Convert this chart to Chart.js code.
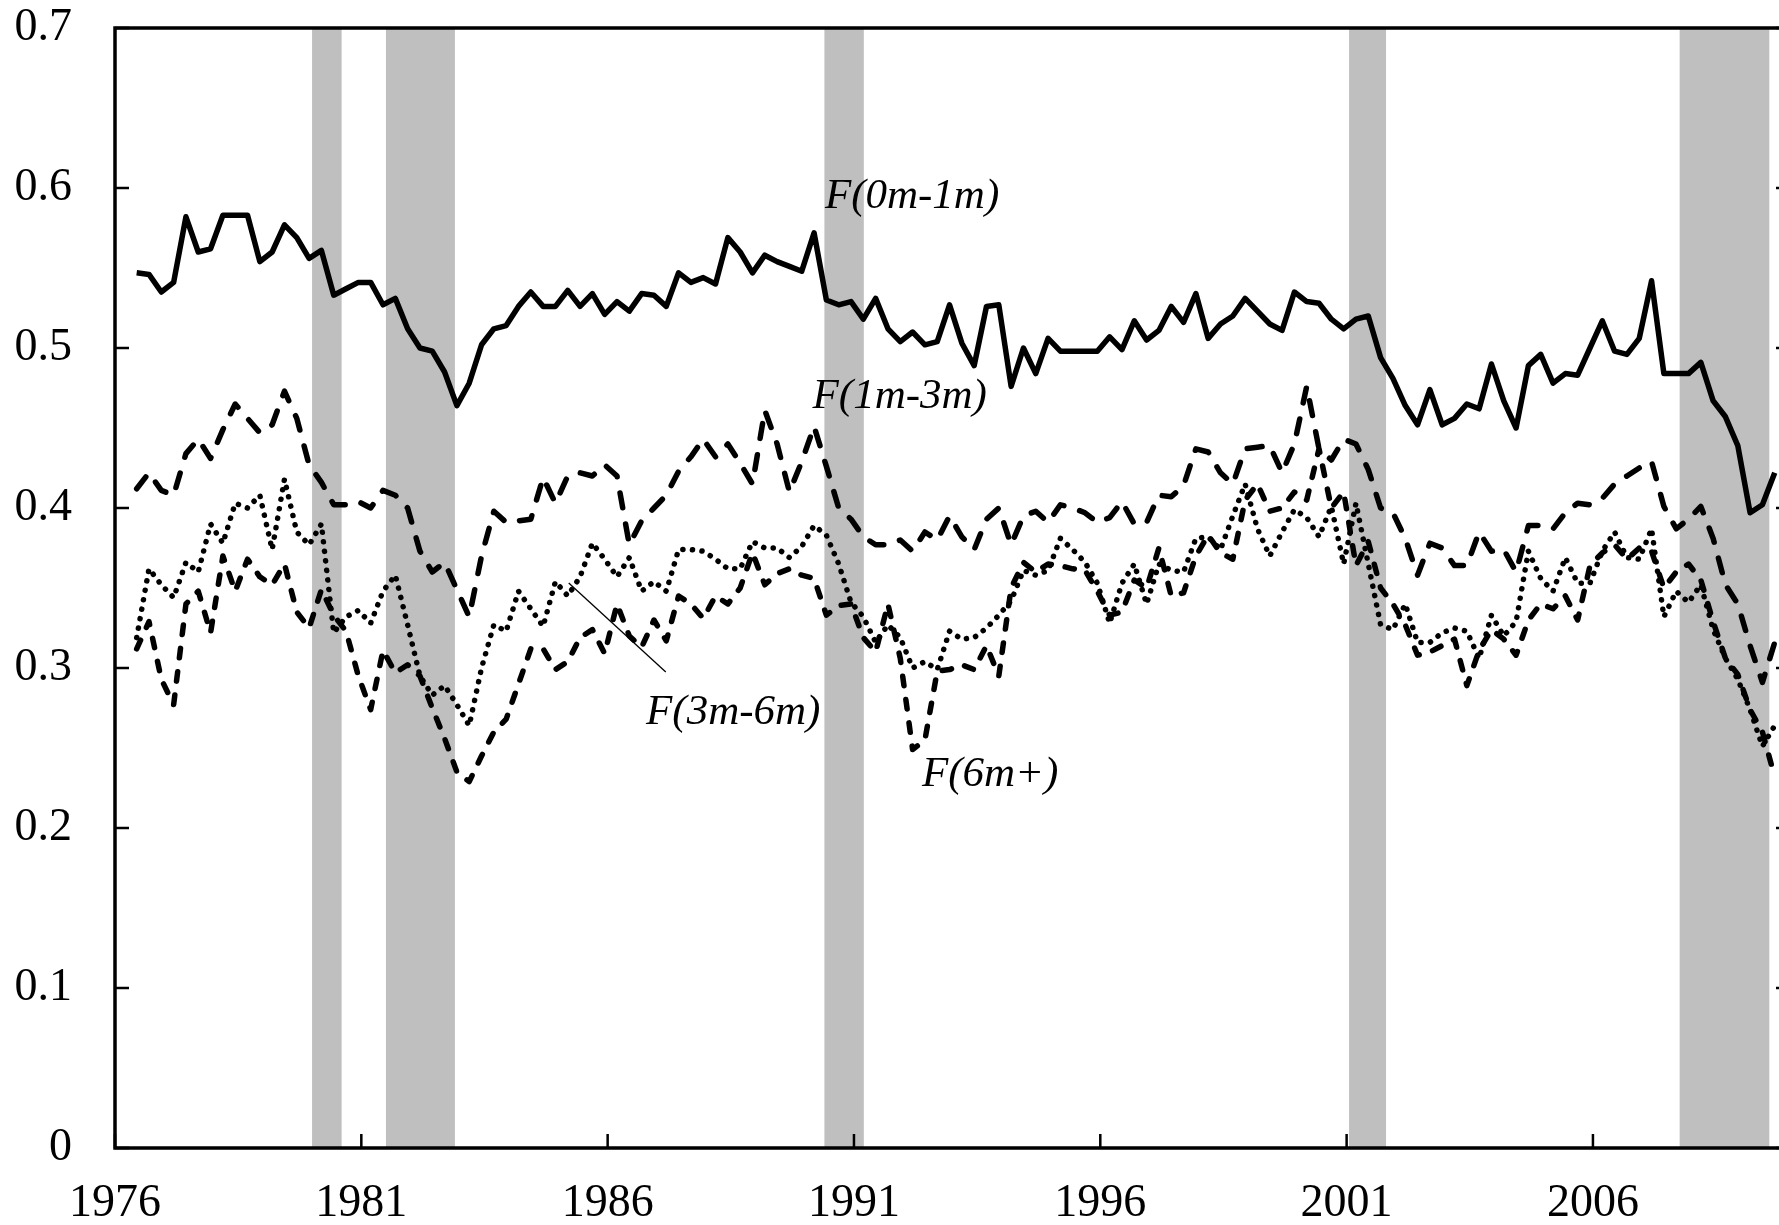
<!DOCTYPE html>
<html>
<head>
<meta charset="utf-8">
<title>Flow shares by duration</title>
<script src="https://cdn.jsdelivr.net/npm/chart.js@4.4.1/dist/chart.umd.min.js"></script>
<style>
    html, body { margin: 0; padding: 0; background: #fff; overflow: hidden; }
    #wrap { width: 1779px; height: 1225px; overflow: hidden; position: relative; }
    #chart { position: absolute; left: 0; top: 0; }
</style>
</head>
<body>
<div id="wrap"><canvas id="chart" width="1810" height="1225"></canvas></div>
<script>
// quarterly observations, 1976Q2 - 2009Q3
const firstQuarter = 1976.44;
const quarterStep = 0.25;

const f0m1m = [
    .547, .546, .535, .541, .582, .560, .562, .583, .583, .583,
    .554, .560, .577, .569, .556, .561, .533, .537, .541, .541,
    .527, .531, .512, .500, .498, .485, .464, .478, .502, .512,
    .514, .526, .535, .526, .526, .536, .526, .534, .521, .529,
    .523, .534, .533, .526, .547, .541, .544, .540, .569, .560,
    .547, .558, .554, .551, .548, .572, .530, .527, .529, .518,
    .531, .512, .504, .510, .502, .504, .527, .503, .489, .526,
    .527, .476, .500, .484, .506, .498, .498, .498, .498, .507,
    .499, .517, .505, .511, .526, .516, .534, .506, .515, .520,
    .531, .523, .515, .511, .535, .529, .528, .518, .512, .518,
    .520, .494, .481, .464, .452, .474, .452, .456, .465, .462,
    .490, .467, .450, .489, .496, .478, .484, .483, .500, .517,
    .498, .496, .506, .542, .484, .484, .484, .491, .467, .457,
    .439, .397, .402, .422
];

const f1m3m = [
    .412, .422, .411, .408, .434, .443, .431, .449, .465, .456,
    .447, .452, .473, .456, .427, .416, .402, .402, .404, .400,
    .411, .408, .400, .373, .360, .366, .349, .332, .370, .398,
    .391, .392, .393, .419, .403, .420, .422, .420, .427, .420,
    .377, .392, .400, .408, .423, .432, .443, .432, .440, .428,
    .415, .461, .440, .410, .429, .451, .426, .400, .393, .382,
    .377, .377, .380, .373, .385, .380, .395, .382, .374, .393,
    .400, .377, .395, .398, .391, .402, .400, .397, .391, .394,
    .404, .390, .391, .408, .407, .414, .437, .435, .422, .415,
    .437, .438, .439, .422, .440, .476, .437, .430, .443, .440,
    .424, .400, .397, .381, .358, .378, .375, .364, .364, .385,
    .373, .374, .360, .389, .389, .387, .397, .403, .402, .406,
    .415, .420, .425, .429, .401, .387, .393, .401, .381, .352,
    .340, .314, .291, .316
];

const f3m6m = [
    .319, .362, .352, .344, .366, .360, .390, .378, .403, .400,
    .408, .374, .418, .385, .377, .390, .322, .332, .336, .328,
    .348, .358, .327, .295, .283, .289, .277, .264, .300, .327,
    .323, .348, .337, .326, .354, .345, .357, .378, .368, .357,
    .369, .348, .354, .348, .374, .374, .373, .368, .362, .362,
    .379, .375, .375, .369, .376, .389, .383, .365, .341, .332,
    .316, .327, .319, .300, .304, .299, .323, .318, .319, .325,
    .333, .342, .361, .358, .361, .381, .374, .366, .353, .328,
    .353, .365, .340, .365, .361, .360, .381, .382, .374, .395,
    .415, .387, .370, .385, .399, .394, .382, .401, .365, .403,
    .365, .327, .324, .340, .316, .316, .322, .325, .323, .306,
    .333, .320, .329, .373, .356, .348, .369, .353, .353, .373,
    .385, .369, .368, .387, .332, .348, .341, .352, .324, .306,
    .293, .274, .251, .264
];

const f6mPlus = [
    .312, .329, .293, .277, .340, .348, .322, .370, .348, .368,
    .357, .352, .365, .335, .325, .349, .333, .323, .295, .274,
    .311, .297, .302, .295, .275, .256, .235, .229, .245, .260,
    .268, .290, .312, .312, .299, .304, .319, .324, .309, .340,
    .320, .313, .330, .317, .345, .340, .331, .345, .340, .350,
    .372, .352, .359, .362, .358, .356, .333, .339, .340, .319,
    .310, .340, .306, .249, .255, .298, .299, .302, .299, .314,
    .295, .350, .366, .360, .365, .364, .362, .361, .348, .333,
    .335, .355, .350, .375, .345, .347, .370, .383, .372, .368,
    .405, .415, .398, .400, .410, .405, .437, .400, .410, .364,
    .379, .350, .340, .327, .308, .310, .314, .318, .289, .311,
    .324, .318, .308, .330, .340, .337, .345, .330, .364, .372,
    .377, .368, .375, .373, .350, .360, .365, .355, .329, .306,
    .296, .274, .260, .232
];

// NBER recessions (start, end) in years
const recessions = [
    [1980.0, 1980.6],
    [1981.5, 1982.9],
    [1990.4, 1991.2],
    [2001.05, 2001.8],
    [2007.76, 2009.58],
];

const yearTicks = [1976, 1981, 1986, 1991, 1996, 2001, 2006];
const valueTicks = [0, 0.1, 0.2, 0.3, 0.4, 0.5, 0.6, 0.7];

// series labels, anchored in data units (year, value at text baseline)
const seriesLabels = [
    { text: 'F(0m-1m)', x: 1990.41, y: 0.5875 },
    { text: 'F(1m-3m)', x: 1990.16, y: 0.4625 },
    { text: 'F(3m-6m)', x: 1986.78, y: 0.265 },
    { text: 'F(6m+)', x: 1992.38, y: 0.226 },
];
const pointer = { from: [1985.21, 0.3531], to: [1987.18, 0.2975] };

const SERIF = "'Liberation Serif', 'Times New Roman', serif";

function toPoints(values) {
    return values.map((v, i) => ({ x: firstQuarter + i * quarterStep, y: v }));
}

const decorPlugin = {
    id: 'decor',
    beforeDatasetsDraw(chart) {
        const { ctx, chartArea: a, scales: { x } } = chart;
        ctx.save();
        ctx.fillStyle = '#bfbfbf';
        recessions.forEach(([s, e]) => {
            const x0 = x.getPixelForValue(s);
            const x1 = x.getPixelForValue(e);
            ctx.fillRect(x0, a.top, x1 - x0, a.bottom - a.top);
        });
        ctx.restore();
    },
    afterDraw(chart) {
        const { ctx, chartArea: a, scales: { x, y } } = chart;
        const tick = 14;
        ctx.save();
        ctx.strokeStyle = '#000';
        ctx.lineCap = 'butt';

        // frame
        ctx.lineWidth = 3.5;
        ctx.beginPath();
        ctx.moveTo(a.left, a.top);
        ctx.lineTo(a.right, a.top);
        ctx.lineTo(a.right, a.bottom);
        ctx.lineTo(a.left, a.bottom);
        ctx.closePath();
        ctx.stroke();

        // inward tick marks
        ctx.lineWidth = 2.5;
        ctx.beginPath();
        valueTicks.forEach((v) => {
            const py = y.getPixelForValue(v);
            ctx.moveTo(a.left, py);
            ctx.lineTo(a.left + tick, py);
            ctx.moveTo(a.right, py);
            ctx.lineTo(a.right - tick, py);
        });
        yearTicks.forEach((yr) => {
            const px = x.getPixelForValue(yr);
            ctx.moveTo(px, a.bottom);
            ctx.lineTo(px, a.bottom - tick);
        });
        ctx.stroke();

        // pointer line to the dotted series
        ctx.lineWidth = 1.3;
        ctx.beginPath();
        ctx.moveTo(x.getPixelForValue(pointer.from[0]), y.getPixelForValue(pointer.from[1]));
        ctx.lineTo(x.getPixelForValue(pointer.to[0]), y.getPixelForValue(pointer.to[1]));
        ctx.stroke();

        // series labels
        ctx.fillStyle = '#000';
        ctx.font = 'italic 43px ' + SERIF;
        ctx.textAlign = 'left';
        ctx.textBaseline = 'alphabetic';
        seriesLabels.forEach((lab) => {
            ctx.fillText(lab.text, x.getPixelForValue(lab.x), y.getPixelForValue(lab.y));
        });
        ctx.restore();
    },
};

const lineBase = {
    borderColor: '#000',
    borderWidth: 5.5,
    pointRadius: 0,
    tension: 0,
    fill: false,
    borderJoinStyle: 'round',
    borderCapStyle: 'round',
};

new Chart(document.getElementById('chart').getContext('2d'), {
    type: 'line',
    data: {
        datasets: [
            { ...lineBase, label: 'F(0m-1m)', data: toPoints(f0m1m), borderCapStyle: 'butt' },
            { ...lineBase, label: 'F(1m-3m)', data: toPoints(f1m3m), borderDash: [15, 16.5] },
            { ...lineBase, label: 'F(3m-6m)', data: toPoints(f3m6m), borderDash: [0.1, 9.5] },
            { ...lineBase, label: 'F(6m+)', data: toPoints(f6mPlus), borderDash: [9.5, 14] },
        ],
    },
    options: {
        responsive: false,
        animation: false,
        devicePixelRatio: 1,
        layout: { padding: { left: 0, top: 28, right: 20, bottom: 0 } },
        plugins: { legend: { display: false }, tooltip: { enabled: false } },
        scales: {
            x: {
                type: 'linear',
                min: 1976,
                max: 2010,
                afterBuildTicks(axis) { axis.ticks = yearTicks.map((v) => ({ value: v })); },
                afterFit(axis) {
                    axis.height = 77;
                    axis.paddingLeft = 0;
                    axis.paddingRight = 0;
                },
                grid: { display: false, drawTicks: false },
                border: { display: false },
                ticks: {
                    color: '#000',
                    padding: 28,
                    maxRotation: 0,
                    autoSkip: false,
                    font: { family: SERIF, size: 46, lineHeight: 1.2 },
                    callback: (v) => String(v),
                },
            },
            y: {
                min: 0,
                max: 0.7,
                afterBuildTicks(axis) { axis.ticks = valueTicks.map((v) => ({ value: v })); },
                afterFit(axis) {
                    axis.width = 115;
                    axis.paddingTop = 0;
                    axis.paddingBottom = 0;
                },
                grid: { display: false, drawTicks: false },
                border: { display: false },
                ticks: {
                    color: '#000',
                    padding: 43,
                    font: { family: SERIF, size: 46 },
                    callback: (v) => (v === 0 ? '0' : v.toFixed(1)),
                },
            },
        },
    },
    plugins: [decorPlugin],
});
</script>
</body>
</html>
